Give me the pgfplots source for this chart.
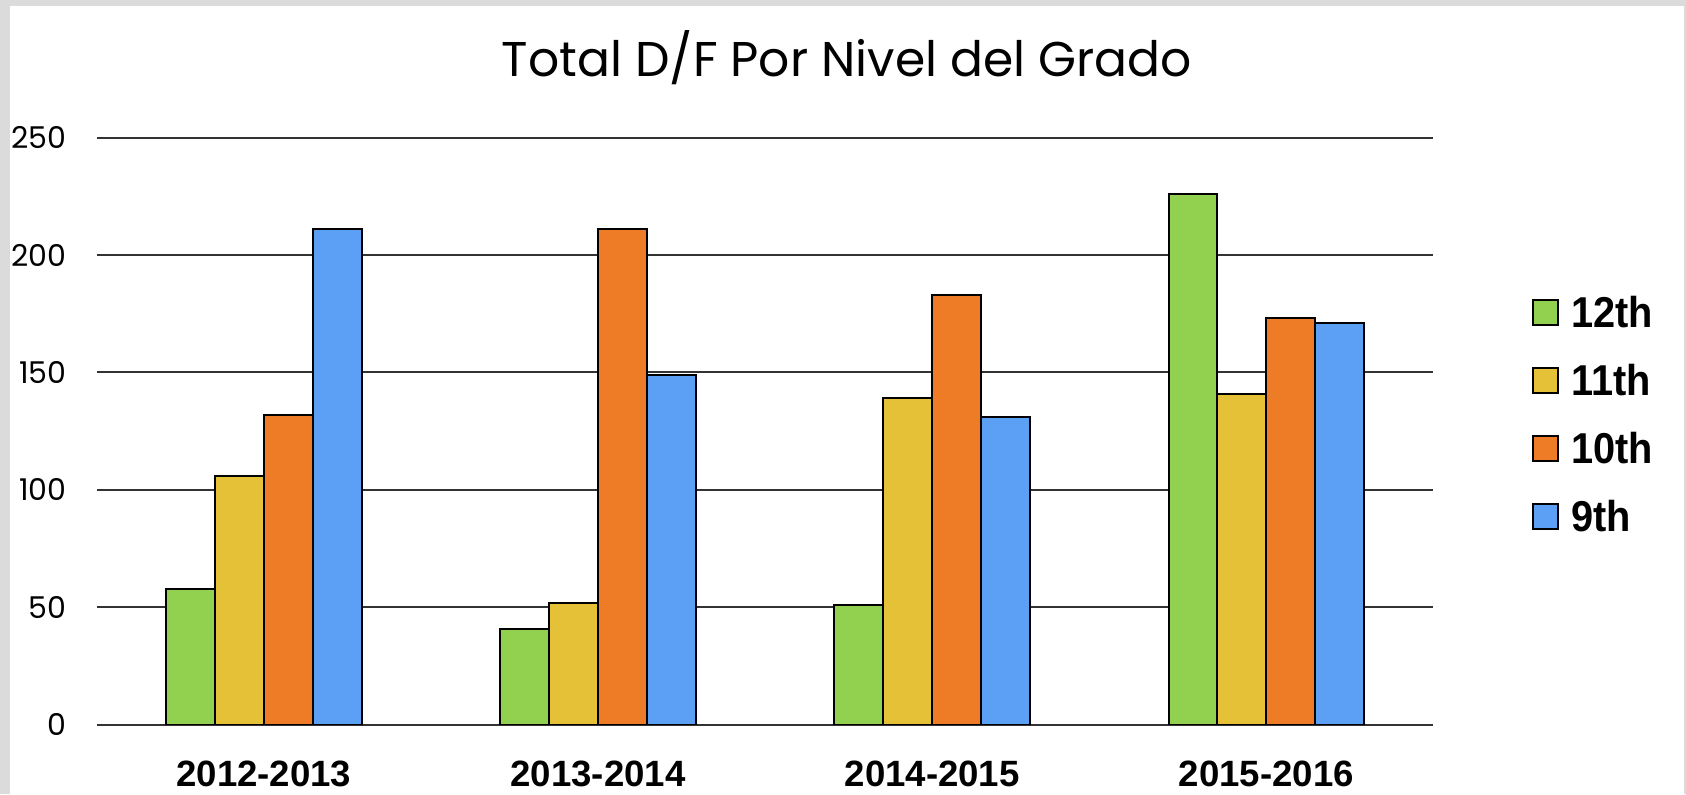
\documentclass[border=0pt]{standalone}
\usepackage{pgfplots}
\pgfplotsset{compat=1.18}
\usepackage{fontspec}
\setmainfont{Poppins}
\newfontfamily\bc{Liberation Sans}
\newfontfamily\bcn{Liberation Sans}[FakeStretch=0.92]
\definecolor{cGreen}{HTML}{92D050}
\definecolor{cYellow}{HTML}{E4C137}
\definecolor{cOrange}{HTML}{EE7B25}
\definecolor{cBlue}{HTML}{5BA0F5}
\pgfplotsset{sqleg/.style={legend image code/.code={\draw[##1,line width=1pt] (0pt,-6.25pt) rectangle (12.5pt,6.25pt);}}}
\begin{document}
\begin{tikzpicture}[x=1pt,y=1pt]
\fill[gray!28] (0,0) rectangle (843,397);
\fill[white] (5,0) rectangle (842,394);
\useasboundingbox (0,0) rectangle (843,397);
\node[anchor=base, font=\fontsize{24.4}{26}\selectfont] at (423.5,358.6) {Total D/F Por Nivel del Grado};
\begin{axis}[
  at={(48.4pt,34.6pt)}, anchor=south west,
  scale only axis, width=668.3pt, height=293.6pt,
  xmin=-0.5, xmax=3.5, ymin=0, ymax=250,
  ytick={0,50,...,250},
  xtick={0,1,2,3},
  xticklabels={2012-2013,2013-2014,2014-2015,2015-2016},
  axis line style={draw=none},
  tick style={draw=none},
  major tick length=0pt,
  ymajorgrids,
  grid style={black!80, line width=1pt},
  /pgf/number format/assume math mode=true,
  yticklabel style={font=\fontsize{15}{15}\selectfont, anchor=east, inner sep=0pt, xshift=-15pt},
  xticklabel style={font=\bc\bfseries\fontsize{18.3}{19}\selectfont, anchor=north, inner sep=0pt, yshift=-18pt},
  ybar=0pt, bar width=24.45pt,
  legend style={draw=none, fill=none, at={(1.0738,0.529)}, anchor=west, inner sep=0pt,
    font=\bcn\bfseries\fontsize{21.6}{22}\selectfont, row sep=18.5pt,
    nodes={inner sep=0pt, text height=15.5pt, text depth=0pt},
    /tikz/every odd column/.style={column sep=6pt}},
  legend cell align=left,
]
\addplot[fill=cGreen, draw=black, line width=1pt, sqleg] coordinates {(0,58) (1,41) (2,51) (3,226)};
\addplot[fill=cYellow, draw=black, line width=1pt, sqleg] coordinates {(0,106) (1,52) (2,139) (3,141)};
\addplot[fill=cOrange, draw=black, line width=1pt, sqleg] coordinates {(0,132) (1,211) (2,183) (3,173)};
\addplot[fill=cBlue, draw=black, line width=1pt, sqleg] coordinates {(0,211) (1,149) (2,131) (3,171)};
\legend{12th,11th,10th,9th}
\end{axis}
\end{tikzpicture}
\end{document}
